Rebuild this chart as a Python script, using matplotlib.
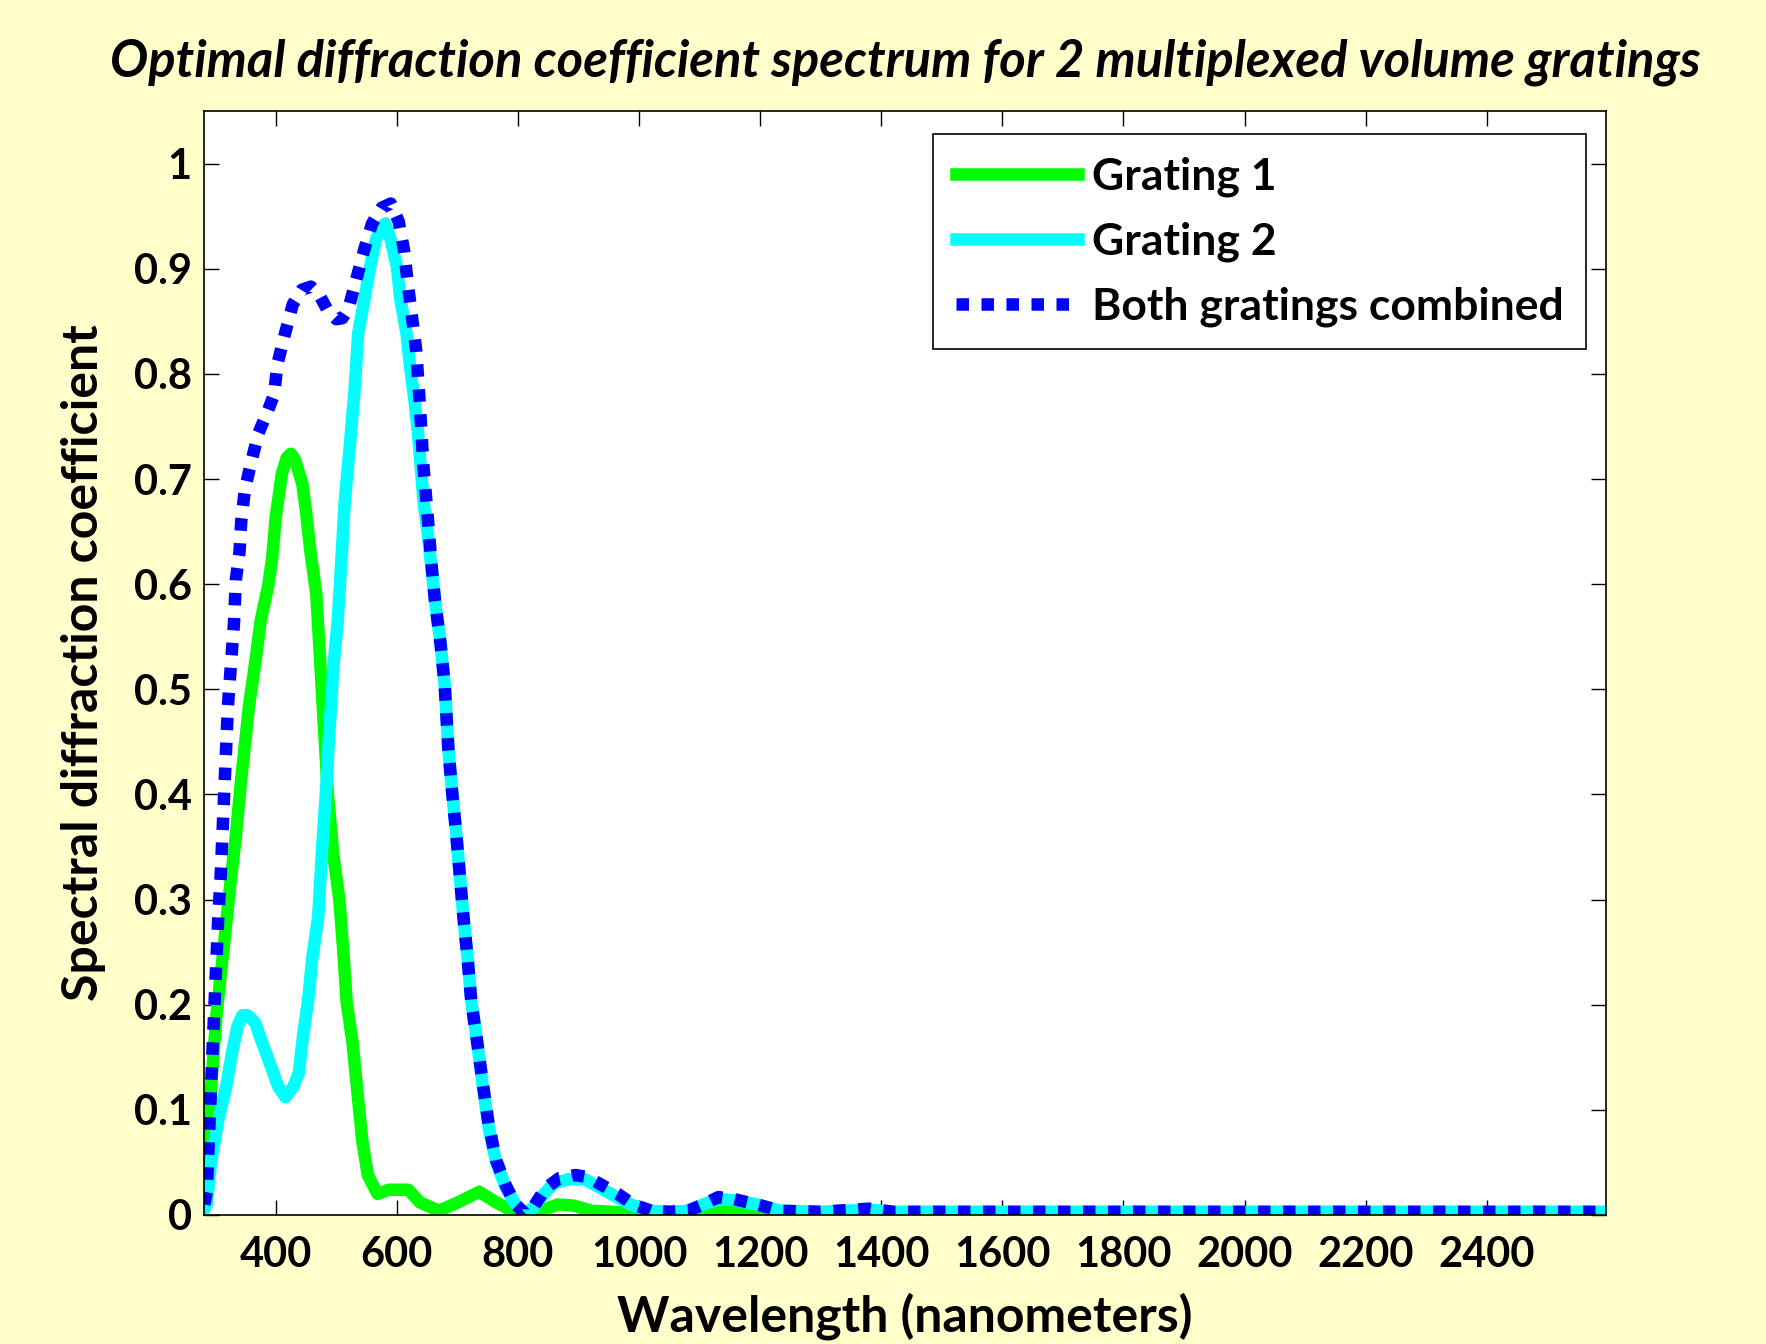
import numpy as np
import matplotlib
matplotlib.use("Agg")
import matplotlib.pyplot as plt

# Grating 1 (green)
wl_g1 = [282, 286, 293, 302, 315, 324, 334, 343, 356, 366, 375, 388, 394, 400, 410,
         418, 425, 432, 444, 451, 457, 467, 476, 486, 495, 505, 511, 517, 527, 536,
         543, 552, 568, 587, 619, 638, 669, 701, 736, 764, 796, 828, 866, 891, 922,
         954, 986, 1017, 1081, 1131, 1163, 1188, 2600]
g1 = [0.04, 0.06, 0.12, 0.19, 0.26, 0.31, 0.36, 0.415, 0.485, 0.525, 0.565, 0.60, 0.625, 0.664, 0.705,
      0.72, 0.724, 0.718, 0.695, 0.664, 0.632, 0.59, 0.50, 0.40, 0.343, 0.30, 0.255, 0.203, 0.163, 0.11,
      0.07, 0.038, 0.02, 0.024, 0.024, 0.012, 0.004, 0.012, 0.022, 0.012, 0.002, 0.002, 0.01, 0.009, 0.004,
      0.003, 0.002, 0.0, 0.0, 0.005, 0.003, 0.0, 0.0]

# Grating 2 (cyan)
wl_g2 = [282, 286, 293, 305, 318, 328, 337, 345, 353, 366, 378, 391, 404, 416, 429,
         438, 445, 454, 460, 470, 476, 483, 489, 495, 502, 506, 514, 524, 530, 536,
         546, 556, 565, 575, 581, 590, 600, 606, 616, 622, 629, 635, 644, 651, 657,
         663, 672, 679, 685, 691, 698, 704, 710, 717, 723, 733, 742, 752, 764, 780,
         796, 809, 824, 840, 859, 884, 910, 935, 960, 986, 1017, 1049, 1081, 1106, 1131,
         1157, 1195, 1233, 1300, 1380, 1420, 2600]
g2 = [0.005, 0.01, 0.05, 0.09, 0.122, 0.155, 0.18, 0.19, 0.19, 0.183, 0.163, 0.143, 0.122, 0.112, 0.122,
      0.135, 0.17, 0.207, 0.243, 0.283, 0.343, 0.404, 0.464, 0.52, 0.563, 0.6, 0.679, 0.743, 0.784, 0.838,
      0.87, 0.902, 0.927, 0.94, 0.943, 0.927, 0.902, 0.87, 0.838, 0.806, 0.775, 0.743, 0.679, 0.648, 0.616,
      0.584, 0.544, 0.504, 0.444, 0.404, 0.363, 0.323, 0.283, 0.243, 0.203, 0.163, 0.122, 0.082, 0.05, 0.026,
      0.01, 0.002, 0.006, 0.018, 0.03, 0.034, 0.034, 0.026, 0.018, 0.01, 0.004, 0.003, 0.004, 0.01, 0.015,
      0.014, 0.01, 0.004, 0.003, 0.005, 0.003, 0.003]

# Both gratings combined (blue dotted)
wl_both = [282, 286, 290, 293, 296, 299, 302, 305, 309, 312, 315, 318, 321, 326, 331,
           334, 340, 343, 349, 359, 371, 387, 397, 403, 416, 428, 443, 458, 472, 486,
           500, 510, 520, 533, 546, 559, 575, 590, 603, 612, 618, 625, 632, 638,
           644, 651, 657, 663, 672, 679, 685, 691, 698, 704, 710, 717, 723, 733, 742,
           752, 764, 780, 796, 812, 826, 845, 868, 895, 915, 940, 965, 990, 1020, 1050,
           1081, 1106, 1131, 1157, 1195, 1233, 1300, 1380, 1420, 2600]
both = [0.01, 0.022, 0.08, 0.12, 0.163, 0.203, 0.243, 0.283, 0.323, 0.363, 0.404, 0.444, 0.484, 0.524, 0.563,
        0.604, 0.63, 0.66, 0.69, 0.715, 0.743, 0.765, 0.78, 0.81, 0.84, 0.866, 0.88, 0.883, 0.875, 0.86,
        0.852, 0.853, 0.862, 0.89, 0.918, 0.943, 0.958, 0.962, 0.945, 0.917, 0.886, 0.854, 0.822, 0.77,
        0.711, 0.664, 0.62, 0.584, 0.544, 0.504, 0.444, 0.404, 0.363, 0.323, 0.283, 0.243, 0.203, 0.163, 0.125,
        0.085, 0.052, 0.028, 0.01, 0.001, 0.008, 0.025, 0.035, 0.038, 0.036, 0.028, 0.02, 0.01, 0.004, 0.003,
        0.004, 0.01, 0.017, 0.015, 0.01, 0.004, 0.003, 0.006, 0.003, 0.003]

xticks = list(range(400, 2401, 200))
yticks = [0, 0.1, 0.2, 0.3, 0.4, 0.5, 0.6, 0.7, 0.8, 0.9, 1]
ytick_labels = ['0', '0.1', '0.2', '0.3', '0.4', '0.5', '0.6', '0.7', '0.8', '0.9', '1']

plt.rcParams['font.family'] = ['Lato', 'DejaVu Sans']
plt.rcParams['font.weight'] = 'bold'

fig = plt.figure(figsize=(17.66, 13.44), dpi=100, facecolor='#FFFFCC')
ax = fig.add_axes([0.1157, 0.096, 0.7937, 0.8214])
ax.set_facecolor('white')

ax.plot(wl_g1, g1, color='#00FF00', lw=9, solid_joinstyle='round', label='Grating 1')
ax.plot(wl_g2, g2, color='#00FFFF', lw=9, solid_joinstyle='round', label='Grating 2')
ax.plot(wl_both, both, color='#0000FF', lw=9, linestyle=(0, (1.0, 1.0)),
        dash_capstyle='butt', label='Both gratings combined')

ax.set_xlim(282, 2597)
ax.set_ylim(0, 1.05)
ax.set_xticks(xticks)
ax.set_yticks(yticks)
ax.set_yticklabels(ytick_labels)
ax.tick_params(direction='in', length=11, width=1, top=True, right=True, labelsize=30)
ax.tick_params(axis='x', pad=15)
ax.tick_params(axis='y', pad=9)
for lab in ax.get_xticklabels() + ax.get_yticklabels():
    lab.set_fontweight('bold')
for s in ax.spines.values():
    s.set_linewidth(1.2)

ax.set_xlabel('Wavelength (nanometers)', fontsize=36, fontweight='bold', labelpad=13)
ax.set_ylabel('Spectral diffraction coefficient', fontsize=36, fontweight='bold', labelpad=20)
ax.set_title('Optimal diffraction coefficient spectrum for 2 multiplexed volume gratings',
             fontsize=36.5, fontweight='bold', fontstyle='italic', pad=25)

leg = ax.legend(loc='upper right', bbox_to_anchor=(0.986, 0.979), fontsize=32,
                handlelength=2.75, handletextpad=0.33, labelspacing=0.55, borderpad=0.5,
                borderaxespad=0, fancybox=False, framealpha=1, edgecolor='black')
leg.get_frame().set_linewidth(1.2)
for t in leg.get_texts():
    t.set_fontweight('bold')

fig.savefig('out.png', dpi=100, facecolor=fig.get_facecolor())
